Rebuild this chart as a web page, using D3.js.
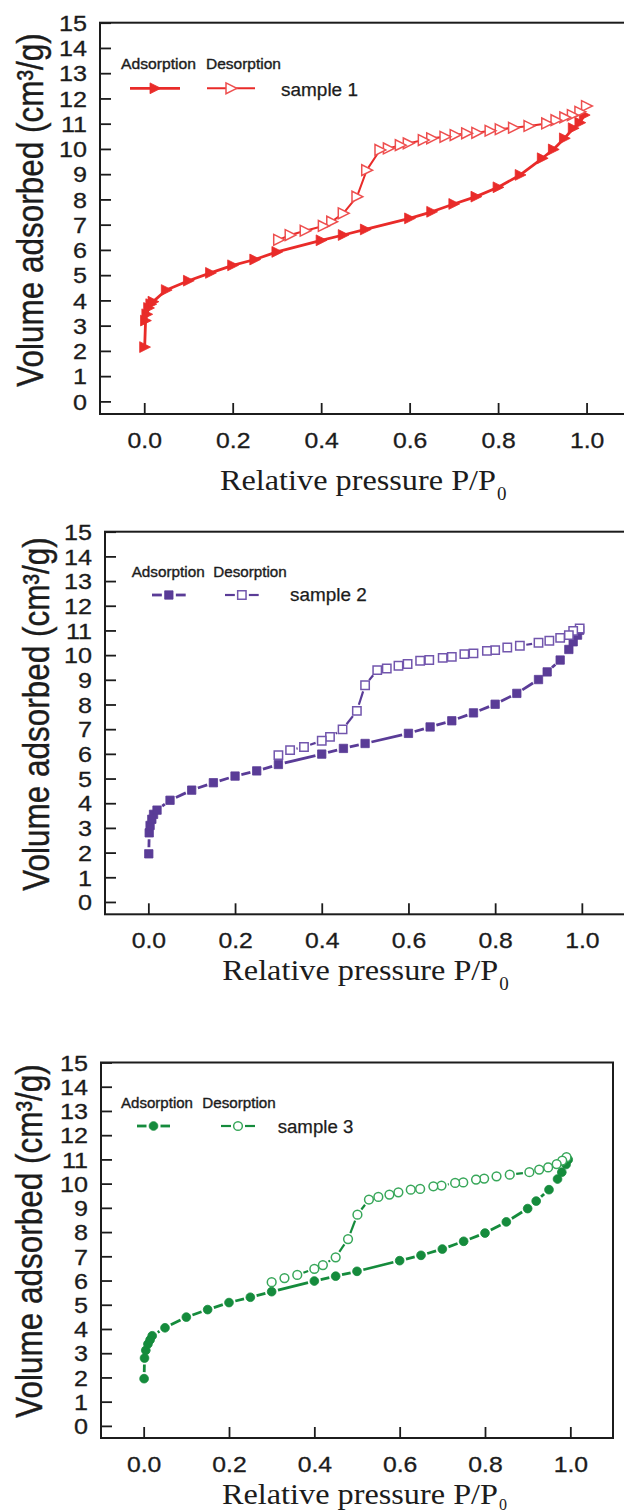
<!DOCTYPE html>
<html>
<head>
<meta charset="utf-8">
<script src="https://cdn.jsdelivr.net/npm/d3@7"></script>
<style>
body { margin: 0; background: #fff; }
svg { display: block; }
</style>
</head>
<body>
<script>
// tick values shared by the three panels
var pTicks = [0.0, 0.2, 0.4, 0.6, 0.8, 1.0];
var vTicks = [0, 1, 2, 3, 4, 5, 6, 7, 8, 9, 10, 11, 12, 13, 14, 15];

// sample 1: adsorption / desorption branches (P/P0, cm3/g)
var s1AdsP = [0.001, 0.003, 0.006, 0.01, 0.015, 0.02, 0.05, 0.1, 0.15, 0.2, 0.25, 0.3, 0.4, 0.45, 0.5, 0.6, 0.65, 0.7, 0.75, 0.8, 0.85, 0.9, 0.925, 0.95, 0.97, 0.985, 0.995];
var s1AdsV = [2.15, 3.2, 3.45, 3.7, 3.85, 3.95, 4.41, 4.78, 5.09, 5.39, 5.62, 5.92, 6.38, 6.59, 6.81, 7.25, 7.51, 7.82, 8.11, 8.48, 8.97, 9.63, 9.98, 10.42, 10.82, 11.04, 11.34];
var s1DesP = [1.0, 0.985, 0.968, 0.951, 0.931, 0.91, 0.87, 0.835, 0.805, 0.782, 0.752, 0.729, 0.703, 0.68, 0.65, 0.631, 0.597, 0.579, 0.552, 0.533, 0.503, 0.481, 0.45, 0.424, 0.405, 0.364, 0.33, 0.304];
var s1DesV = [11.70, 11.47, 11.34, 11.25, 11.14, 11.01, 10.91, 10.84, 10.78, 10.72, 10.64, 10.62, 10.55, 10.48, 10.42, 10.35, 10.22, 10.15, 10.02, 9.96, 9.16, 8.11, 7.45, 7.12, 6.95, 6.76, 6.59, 6.40];

// sample 2
var s2AdsP = [0.001, 0.002, 0.004, 0.008, 0.012, 0.02, 0.05, 0.1, 0.15, 0.2, 0.25, 0.3, 0.4, 0.45, 0.5, 0.6, 0.65, 0.7, 0.75, 0.8, 0.85, 0.9, 0.92, 0.95, 0.97, 0.98, 0.99, 0.995];
var s2AdsV = [1.95, 2.8, 3.1, 3.35, 3.55, 3.72, 4.12, 4.53, 4.83, 5.10, 5.31, 5.57, 5.99, 6.22, 6.42, 6.83, 7.09, 7.34, 7.66, 8.01, 8.45, 9.01, 9.32, 9.80, 10.23, 10.54, 10.81, 11.01];
var s2DesP = [0.995, 0.98, 0.97, 0.95, 0.925, 0.9, 0.857, 0.828, 0.8, 0.781, 0.75, 0.729, 0.7, 0.679, 0.648, 0.627, 0.598, 0.577, 0.55, 0.528, 0.5, 0.481, 0.448, 0.419, 0.4, 0.359, 0.327, 0.3];
var s2DesV = [11.08, 10.98, 10.81, 10.70, 10.58, 10.50, 10.38, 10.31, 10.20, 10.17, 10.07, 10.04, 9.93, 9.89, 9.80, 9.77, 9.64, 9.57, 9.46, 9.39, 8.78, 7.74, 6.99, 6.69, 6.53, 6.28, 6.15, 5.95];

// sample 3
var s3AdsP = [0.001, 0.002, 0.005, 0.01, 0.015, 0.02, 0.05, 0.1, 0.15, 0.2, 0.25, 0.3, 0.4, 0.45, 0.5, 0.6, 0.65, 0.7, 0.75, 0.8, 0.85, 0.9, 0.92, 0.95, 0.97, 0.98, 0.99, 0.995];
var s3AdsV = [1.95, 2.8, 3.12, 3.38, 3.55, 3.72, 4.05, 4.49, 4.80, 5.09, 5.31, 5.54, 5.98, 6.18, 6.38, 6.82, 7.04, 7.30, 7.62, 7.96, 8.42, 8.97, 9.28, 9.75, 10.19, 10.47, 10.79, 10.99];
var s3DesP = [0.991, 0.981, 0.968, 0.948, 0.927, 0.904, 0.858, 0.827, 0.798, 0.779, 0.749, 0.73, 0.698, 0.679, 0.648, 0.626, 0.597, 0.576, 0.55, 0.528, 0.501, 0.479, 0.45, 0.42, 0.4, 0.36, 0.33, 0.3];
var s3DesV = [11.09, 10.95, 10.81, 10.67, 10.58, 10.47, 10.37, 10.30, 10.21, 10.17, 10.05, 10.03, 9.92, 9.89, 9.78, 9.75, 9.64, 9.55, 9.45, 9.34, 8.72, 7.71, 6.96, 6.64, 6.48, 6.23, 6.10, 5.93];

var sampleNames = ['sample 1', 'sample 2', 'sample 3'];

// layout of each panel (pixel boxes, colours, marker shapes, legend spots)
var panels = [
	{ box: [100, 22.7, 630.8, 414], ads: [s1AdsP, s1AdsV], des: [s1DesP, s1DesV],
	  color: '#e92b29', light: '#ee4f4f', shape: 'triangle', gap: 0, adsW: 2.8, desW: 2,
	  yTitle: [43, 210], xTitle: [220, 490, 10, 19],
	  leg: { tY: 69, adsX: 121, adsW: 75, desX: 206, desW: 75, lY: 88.3, adsL: [130, 180], desL: [207, 255], sX: 281, sY: 96, sW: 77 } },
	{ box: [105, 531.7, 625.2, 914.3], ads: [s2AdsP, s2AdsV], des: [s2DesP, s2DesV],
	  color: '#5a3c97', light: '#7256ad', shape: 'square', gap: 6.5, adsW: 2.8, desW: 2.2,
	  yTitle: [49, 714], xTitle: [222.3, 980, 10, 19],
	  leg: { tY: 577, adsX: 131.7, adsW: 73, desX: 213.3, desW: 73.4, lY: 595, adsL: [145, 192.7], desL: [218, 265.7], sX: 290, sY: 601, sW: 76.7 } },
	{ box: [101, 1062.5, 613, 1438], ads: [s3AdsP, s3AdsV], des: [s3DesP, s3DesV],
	  color: '#158b3c', light: '#38a75a', shape: 'circle', gap: 6.5, adsW: 2.8, desW: 2.2,
	  yTitle: [42, 1241], xTitle: [222, 1504, 6, 16],
	  leg: { tY: 1108, adsX: 121, adsW: 72, desX: 202.3, desW: 73.4, lY: 1126, adsL: [130, 177], desL: [214, 262], sX: 277.7, sY: 1133, sW: 75.6 } }
];

var sansFont = "'Liberation Sans', Arial, Helvetica, sans-serif",
	serifFont = "'Liberation Serif', 'Times New Roman', serif",
	inkColor = '#1c1c1c';

var svg = d3.select('body').append('svg')
	.attr('width', 624)
	.attr('height', 1512);

svg.append('rect')
	.attr('width', 624)
	.attr('height', 1512)
	.attr('fill', '#fff');

// widen text horizontally, the source picture was stretched sideways
function stretch(sel, k) {
	sel.each(function() {
		var len = this.getComputedTextLength();
		d3.select(this)
			.attr('textLength', len * k)
			.attr('lengthAdjust', 'spacingAndGlyphs');
	});
}

// marker outline for each symbol type
function markerPath(shape) {
	if (shape == 'triangle') return 'M-5,-5.4L5.8,0L-5,5.4Z';
	if (shape == 'square') return d3.symbol(d3.symbolSquare, 70)();
	return d3.symbol(d3.symbolCircle, 60)();
}

// polyline through the points, leaving a small gap round every marker
function drawGapLine(g, pts, gap, color, width) {
	if (gap == 0) {
		g.append('path')
			.attr('d', d3.line()(pts))
			.attr('fill', 'none')
			.attr('stroke', color)
			.attr('stroke-width', width)
			.attr('stroke-linejoin', 'round');
		return;
	}
	for (var i = 0; i < pts.length - 1; i++) {
		var a = pts[i], b = pts[i + 1],
			dx = b[0] - a[0], dy = b[1] - a[1],
			len = Math.sqrt(dx * dx + dy * dy);
		if (len <= 2 * gap + 0.8) continue;
		var ux = dx / len, uy = dy / len;
		g.append('line')
			.attr('x1', a[0] + ux * gap)
			.attr('y1', a[1] + uy * gap)
			.attr('x2', b[0] - ux * gap)
			.attr('y2', b[1] - uy * gap)
			.attr('stroke', color)
			.attr('stroke-width', width);
	}
}

// put markers on the given points
function drawMarkers(g, pts, shape, filled, color, light) {
	g.selectAll(null)
		.data(pts)
		.enter().append('path')
		.attr('d', markerPath(shape))
		.attr('transform', function(d) { return 'translate(' + d[0] + ',' + d[1] + ')'; })
		.attr('fill', filled ? color : '#fff')
		.attr('stroke', filled ? color : light)
		.attr('stroke-width', filled ? 0.8 : 1.5);
}

function drawPanel(p, idx) {
	var left = p.box[0], top = p.box[1], right = p.box[2], bottom = p.box[3];

	var x = d3.scaleLinear().domain([-0.1, 1.1]).range([left, right]);
	var y = d3.scaleLinear().domain([-0.5, 15]).range([bottom, top]);

	var g = svg.append('g');

	// x axis, ticks pointing inward
	var xAxis = g.append('g')
		.attr('transform', 'translate(0,' + bottom + ')')
		.call(d3.axisBottom(x).tickValues(pTicks).tickSizeInner(-11).tickSizeOuter(0).tickFormat(d3.format('.1f')));
	xAxis.select('.domain').remove();
	xAxis.attr('color', inkColor);
	xAxis.selectAll('line').attr('stroke-width', 1.8);
	xAxis.selectAll('text')
		.attr('y', 34)
		.attr('dy', null)
		.attr('font-family', sansFont)
		.attr('font-size', 21.5)
		.attr('fill', inkColor)
		.attr('stroke', inkColor)
		.attr('stroke-width', 0.3);
	stretch(xAxis.selectAll('text'), 1.15);

	// y axis
	var yAxis = g.append('g')
		.attr('transform', 'translate(' + left + ',0)')
		.call(d3.axisLeft(y).tickValues(vTicks).tickSizeInner(-11).tickSizeOuter(0).tickPadding(13));
	yAxis.select('.domain').remove();
	yAxis.attr('color', inkColor);
	yAxis.selectAll('line').attr('stroke-width', 1.8);
	yAxis.selectAll('text')
		.attr('dy', '0.36em')
		.attr('font-family', sansFont)
		.attr('font-size', 21.5)
		.attr('fill', inkColor)
		.attr('stroke', inkColor)
		.attr('stroke-width', 0.3);
	stretch(yAxis.selectAll('text'), 1.17);

	// frame round the plot
	g.append('rect')
		.attr('x', left)
		.attr('y', top)
		.attr('width', right - left)
		.attr('height', bottom - top)
		.attr('fill', 'none')
		.attr('stroke', inkColor)
		.attr('stroke-width', 2);

	// data
	var adsPts = p.ads[0].map(function(v, i) { return [x(v), y(p.ads[1][i])]; });
	var desPts = p.des[0].map(function(v, i) { return [x(v), y(p.des[1][i])]; });

	drawGapLine(g, adsPts, p.gap, p.color, p.adsW);
	drawGapLine(g, desPts, p.gap, p.color, p.desW);
	drawMarkers(g, adsPts, p.shape, true, p.color, p.light);
	drawMarkers(g, desPts, p.shape, false, p.color, p.light);

	// legend
	var L = p.leg;
	g.append('text')
		.text('Adsorption')
		.attr('x', L.adsX)
		.attr('y', L.tY)
		.attr('font-family', sansFont)
		.attr('font-size', 14)
		.attr('fill', inkColor)
		.attr('stroke', inkColor)
		.attr('stroke-width', 0.35)
		.attr('textLength', L.adsW)
		.attr('lengthAdjust', 'spacingAndGlyphs');
	g.append('text')
		.text('Desorption')
		.attr('x', L.desX)
		.attr('y', L.tY)
		.attr('font-family', sansFont)
		.attr('font-size', 14)
		.attr('fill', inkColor)
		.attr('stroke', inkColor)
		.attr('stroke-width', 0.35)
		.attr('textLength', L.desW)
		.attr('lengthAdjust', 'spacingAndGlyphs');

	var lgGap = p.gap == 0 ? 0 : 7;
	var adsMid = (L.adsL[0] + L.adsL[1]) / 2, desMid = (L.desL[0] + L.desL[1]) / 2;
	drawGapLine(g, [[L.adsL[0], L.lY], [adsMid, L.lY], [L.adsL[1], L.lY]], lgGap, p.color, p.adsW);
	drawGapLine(g, [[L.desL[0], L.lY], [desMid, L.lY], [L.desL[1], L.lY]], lgGap, p.color, p.desW);
	drawMarkers(g, [[adsMid, L.lY]], p.shape, true, p.color, p.light);
	drawMarkers(g, [[desMid, L.lY]], p.shape, false, p.color, p.light);

	g.append('text')
		.text(sampleNames[idx])
		.attr('x', L.sX)
		.attr('y', L.sY)
		.attr('font-family', sansFont)
		.attr('font-size', 18)
		.attr('fill', inkColor)
		.attr('stroke', inkColor)
		.attr('stroke-width', 0.25)
		.attr('textLength', L.sW)
		.attr('lengthAdjust', 'spacingAndGlyphs');

	// y axis title, widened across its baseline
	g.append('text')
		.text('Volume adsorbed (cm\u00b3/g)')
		.attr('transform', 'translate(' + p.yTitle[0] + ',' + p.yTitle[1] + ') rotate(-90) scale(1,1.18)')
		.attr('text-anchor', 'middle')
		.attr('font-family', sansFont)
		.attr('font-size', 31.5)
		.attr('fill', inkColor)
		.attr('stroke', inkColor)
		.attr('stroke-width', 0.35);

	// x axis title with subscript zero
	g.append('text')
		.text('Relative pressure P/P')
		.attr('x', p.xTitle[0])
		.attr('y', p.xTitle[1])
		.attr('font-family', serifFont)
		.attr('font-size', 30)
		.attr('fill', inkColor)
		.attr('textLength', 276)
		.attr('lengthAdjust', 'spacingAndGlyphs');
	g.append('text')
		.text('0')
		.attr('x', p.xTitle[0] + 277)
		.attr('y', p.xTitle[1] + p.xTitle[2])
		.attr('font-family', serifFont)
		.attr('font-size', p.xTitle[3])
		.attr('fill', inkColor);
}

panels.forEach(drawPanel);
</script>
</body>
</html>
